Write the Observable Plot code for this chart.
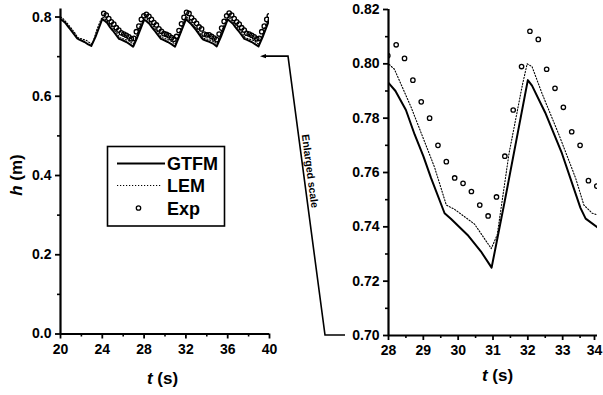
<!DOCTYPE html>
<html><head><meta charset="utf-8">
<script src="https://cdn.jsdelivr.net/npm/d3@7"></script>
<script src="https://cdn.jsdelivr.net/npm/@observablehq/plot@0.6"></script>
<style>
html,body{margin:0;padding:0;background:#fff;}
#wrap{position:relative;width:603px;height:395px;overflow:hidden;font-family:"Liberation Sans",Arial,sans-serif;}
#wrap > svg{position:absolute;left:0;top:0;}
</style></head><body><div id="wrap"></div>
<script>
// ---- data ----
const gtfmT = [20.0,20.2,20.5,20.75,21.0,21.2,21.6,21.8,22.3,22.65,22.95,23.35,24.0,
  24.2,24.5,24.75,25.0,25.2,25.6,25.8,26.3,26.65,26.95,27.35,28.0,
  28.2,28.5,28.75,29.0,29.22,29.61,29.79,30.27,30.65,30.96,31.33,32.0,
  32.12,32.5,32.98,33.51,33.66,34.09,34.6,34.95,35.35,36.0,
  36.2,36.5,36.75,37.0,37.2,37.6,37.8,38.3,38.65,38.95,39.35,40.0];
const gtfmH = [0.795,0.791,0.784,0.775,0.767,0.760,0.746,0.743,0.737,0.731,0.727,0.750,0.795,
  0.791,0.784,0.774,0.766,0.759,0.745,0.743,0.737,0.731,0.725,0.749,0.793,
  0.790,0.783,0.774,0.766,0.758,0.745,0.743,0.737,0.731,0.725,0.749,0.794,
  0.792,0.782,0.767,0.747,0.743,0.739,0.733,0.726,0.750,0.794,
  0.790,0.783,0.774,0.766,0.759,0.745,0.743,0.737,0.731,0.726,0.750,0.795];

const lemT = [20.0,20.17,20.65,21.32,21.66,21.89,22.47,22.95,23.12,23.46,23.84,24.0,
  24.17,24.65,25.32,25.66,25.89,26.47,26.95,27.12,27.46,27.84,28.0,
  28.17,28.65,29.32,29.66,29.89,30.47,30.95,31.12,31.46,31.84,31.98,
  32.12,32.41,32.89,33.37,33.61,33.85,34.09,34.5,34.95,35.12,35.46,35.84,36.0,
  36.17,36.65,37.32,37.66,37.89,38.47,38.95,39.12,39.46,39.84,40.0];
const lemH = [0.800,0.798,0.784,0.762,0.748,0.746,0.741,0.732,0.737,0.767,0.792,0.800,
  0.798,0.784,0.762,0.748,0.746,0.741,0.732,0.737,0.767,0.792,0.800,
  0.798,0.784,0.762,0.748,0.7465,0.741,0.732,0.737,0.767,0.792,0.800,
  0.799,0.789,0.774,0.758,0.748,0.745,0.744,0.740,0.733,0.738,0.767,0.792,0.800,
  0.798,0.784,0.762,0.748,0.746,0.741,0.732,0.737,0.767,0.792,0.800];

const expT = [24.14,24.38,24.62,24.86,25.10,25.34,25.58,25.82,26.06,26.30,26.54,26.78,27.02,27.26,27.50,27.74,27.98,
  28.22,28.46,28.70,28.94,29.18,29.42,29.66,29.90,30.14,30.38,30.62,30.86,31.10,31.34,31.58,31.82,
  32.06,32.30,32.54,32.78,33.02,33.26,33.50,33.74,33.98,34.22,34.46,34.70,34.94,35.18,35.42,35.66,35.90,
  36.14,36.38,36.62,36.86,37.10,37.34,37.58,37.82,38.06,38.30,38.54,38.78,39.02,39.26,39.50,39.74,39.98];
const expH = [0.809,0.805,0.796,0.788,0.782,0.773,0.767,0.760,0.757,0.754,0.750,0.745,0.746,0.763,0.777,0.794,0.803,
  0.807,0.802,0.794,0.786,0.780,0.770,0.764,0.758,0.756,0.753,0.748,0.744,0.751,0.766,0.783,0.799,
  0.812,0.809,0.798,0.791,0.784,0.775,0.770,0.757,0.755,0.755,0.751,0.747,0.743,0.757,0.772,0.789,0.803,
  0.810,0.805,0.796,0.788,0.782,0.773,0.767,0.759,0.757,0.754,0.750,0.745,0.746,0.763,0.777,0.794,0.803];

const seriesNames = ["GTFM","LEM","Exp"];
const leftXTicks = [20,24,28,32,36,40], leftXMinor = [22,26,30,34,38];
const leftYTicks = [0,0.2,0.4,0.6,0.8], leftYMinor = [0.1,0.3,0.5,0.7];
const rightXTicks = [28,29,30,31,32,33,34], rightXMinor = [28.5,29.5,30.5,31.5,32.5,33.5];
const rightYTicks = [0.70,0.72,0.74,0.76,0.78,0.80,0.82], rightYMinor = [0.71,0.73,0.75,0.77,0.79,0.81];
const xTitle = "(s)", xVar = "t", yTitle = "(m)", yVar = "h", noteText = "Enlarged scale";

const gtfm = gtfmT.map((t,i)=>({t, h:gtfmH[i]}));
const lem = lemT.map((t,i)=>({t, h:lemH[i]}));
const exp = expT.map((t,i)=>({t, h:expH[i]}));

const W = 603, H = 395;
const FONT = '"Liberation Sans", Arial, sans-serif';
const LB = {left:60, right:269, top:8.6, bottom:333.5};
const RB = {left:388, right:597, top:9, bottom:335};

function panel(box, xd, yd, xT, xM, yT, yM, yFmt) {
  // a tick label that would run past the page edge is nudged inward
  const fits = xT.filter(d => d !== xd[1] || box.right + 9 <= W);
  const edge = xT.filter(d => !fits.includes(d));
  return Plot.plot({
    width: W, height: H,
    marginLeft: box.left, marginRight: W - box.right, marginTop: box.top, marginBottom: H - box.bottom,
    x: {domain: xd}, y: {domain: yd},
    style: {background: "transparent", fontFamily: FONT, fontSize: "14px", fontWeight: "bold", color: "#000", overflow: "visible"},
    marks: [
      Plot.line(gtfm, {x: "t", y: "h", stroke: "#000", strokeWidth: 2, clip: true}),
      Plot.line(lem, {x: "t", y: "h", stroke: "#000", strokeWidth: 1.1, strokeDasharray: "1.2,1.8", clip: true}),
      Plot.dot(exp, {x: "t", y: "h", r: 2.2, stroke: "#000", strokeWidth: 1.3, fill: "none", clip: true}),
      Plot.axisX(fits, {tickSize: 5, tickPadding: 5, strokeWidth: 1.8, label: null, tickFormat: d => String(d), fill: "#000"}),
      ...(edge.length ? [Plot.axisX(edge, {tickSize: 5, tickPadding: 5, strokeWidth: 1.8, label: null, tickFormat: d => String(d), fill: "#000", dx: -(box.right + 9 - W)})] : []),
      Plot.axisX(xM, {tickSize: 3, strokeWidth: 1.6, label: null, tickFormat: () => ""}),
      Plot.axisY(yT, {tickSize: 5, tickPadding: 4, strokeWidth: 1.8, label: null, tickFormat: yFmt, fill: "#000"}),
      Plot.axisY(yM, {tickSize: 3, strokeWidth: 1.6, label: null, tickFormat: () => ""}),
      Plot.ruleX([xd[0]], {stroke: "#000", strokeWidth: 2.2}),
      Plot.ruleY([yd[0]], {stroke: "#000", strokeWidth: 2.2})
    ]
  });
}

const wrap = document.getElementById("wrap");
const leftDomX = [20,40], leftDomY = [0,0.82], rightDomX = [28,34], rightDomY = [0.70,0.82];
wrap.append(panel(LB, leftDomX, leftDomY, leftXTicks, leftXMinor, leftYTicks, leftYMinor, d3.format(".1f")));
wrap.append(panel(RB, rightDomX, rightDomY, rightXTicks, rightXMinor, rightYTicks, rightYMinor, d3.format(".2f")));

// ---- overlay: connector, legend, axis titles ----
const lx = d3.scaleLinear(leftDomX, [LB.left, LB.right]);
const ly = d3.scaleLinear(leftDomY, [LB.bottom, LB.top]);
const rx = d3.scaleLinear(rightDomX, [RB.left, RB.right]);
const ry = d3.scaleLinear(rightDomY, [RB.bottom, RB.top]);

const svg = d3.create("svg").attr("width", W).attr("height", H)
  .style("font-family", FONT).style("overflow", "visible");

const yTop = ly(0.70), yBot = ry(0.70);
const tipX = lx(40) - 9, elbowX = tipX + 28, footX = rx(28) - 43, kneeX = footX - 20;
svg.append("path").attr("d", `M${tipX+5},${yTop}L${elbowX},${yTop}L${kneeX},${yBot}L${footX},${yBot}`)
  .attr("fill", "none").attr("stroke", "#000").attr("stroke-width", 1.6);
svg.append("path").attr("d", `M${tipX},${yTop}L${tipX+6},${yTop-2.2}L${tipX+6},${yTop+2.2}Z`).attr("fill", "#000");
const ang = Math.atan2(yBot - yTop, kneeX - elbowX) * 180 / Math.PI;
const cy = 171, cx = elbowX + (cy - yTop) / (yBot - yTop) * (kneeX - elbowX) + 7;
svg.append("text").attr("transform", `translate(${cx},${cy}) rotate(${ang})`)
  .attr("text-anchor", "middle").attr("dy", "0.35em").attr("font-size", 10.5).attr("font-weight", "bold")
  .attr("fill", "#000").text(noteText);

// legend
const lg = svg.append("g");
lg.append("rect").attr("x", 107.5).attr("y", 146.5).attr("width", 117).attr("height", 79.5)
  .attr("fill", "#fff").attr("stroke", "#000").attr("stroke-width", 1.6);
lg.append("line").attr("x1", 117).attr("x2", 165).attr("y1", 163.5).attr("y2", 163.5).attr("stroke", "#000").attr("stroke-width", 2);
lg.append("line").attr("x1", 117).attr("x2", 161).attr("y1", 185.5).attr("y2", 185.5).attr("stroke", "#000").attr("stroke-width", 1.1).attr("stroke-dasharray", "1.2,1.8");
lg.append("circle").attr("cx", 138.5).attr("cy", 208).attr("r", 2.2).attr("fill", "none").attr("stroke", "#000").attr("stroke-width", 1.3);
[[seriesNames[0], 170], [seriesNames[1], 192], [seriesNames[2], 214.5]].forEach(([s, y]) => {
  lg.append("text").attr("x", 167).attr("y", y).attr("font-size", 18).attr("font-weight", "bold").text(s);
});

// axis titles
function xTitleAt(x, y) {
  const t = svg.append("text").attr("x", x).attr("y", y).attr("text-anchor", "middle").attr("font-size", 17).attr("font-weight", "bold");
  t.append("tspan").attr("font-style", "italic").text(xVar);
  t.append("tspan").text(" " + xTitle);
}
xTitleAt((LB.left + LB.right) / 2 - 2, 384);
xTitleAt((RB.left + RB.right) / 2 + 5, 381);
const yt = svg.append("text").attr("transform", `translate(22,${ly(0.4)}) rotate(-90)`)
  .attr("text-anchor", "middle").attr("font-size", 17).attr("font-weight", "bold");
yt.append("tspan").attr("font-style", "italic").text(yVar);
yt.append("tspan").text(" " + yTitle);

wrap.append(svg.node());
</script></body></html>
